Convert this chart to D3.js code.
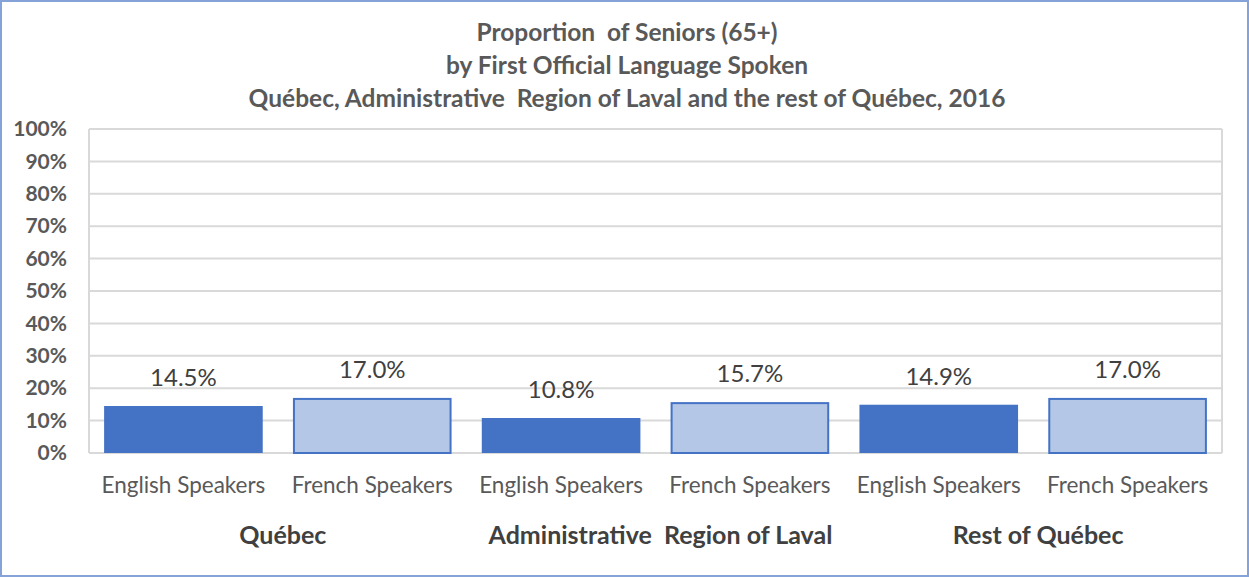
<!DOCTYPE html>
<html><head><meta charset="utf-8">
<script src="https://cdn.jsdelivr.net/npm/d3@7"></script>
<style>body{margin:0;background:#fff}svg{display:block}</style>
</head><body>
<svg id="c" width="1249" height="577"></svg>
<script>
const titleLines = ["Proportion  of Seniors (65+)", "by First Official Language Spoken", "Québec, Administrative  Region of Laval and the rest of Québec, 2016"];
const groups = ["Québec", "Administrative  Region of Laval", "Rest of Québec"];
const speakers = ["English Speakers", "French Speakers"];
const values = [14.5, 17.0, 10.8, 15.7, 14.9, 17.0];
const yTicks = [0, 10, 20, 30, 40, 50, 60, 70, 80, 90, 100];

const svg = d3.select("#c");
const W = 1249, H = 577;
const m = {left: 89, right: 1222, top: 129, bottom: 453};
const FONT = "Lato, 'Open Sans', sans-serif";

svg.append("rect").attr("x", 1).attr("y", 1).attr("width", W - 2).attr("height", H - 2)
  .attr("fill", "#fff").attr("stroke", "#85A2D9").attr("stroke-width", 2);

const cats = [];
groups.forEach((g, gi) => speakers.forEach((s, si) => cats.push({g, s, gi, si, key: gi + "-" + si, v: values[gi * 2 + si]})));

const x = d3.scaleBand().domain(cats.map(d => d.key)).range([m.left, m.right]).paddingInner(0.16).paddingOuter(0.08);
const y = d3.scaleLinear().domain([0, 100]).range([m.bottom, m.top]);

svg.append("g").selectAll("line").data(yTicks).join("line")
  .attr("x1", m.left).attr("x2", m.right).attr("y1", d => y(d)).attr("y2", d => y(d))
  .attr("stroke", "#D9D9D9").attr("stroke-width", 2);
svg.append("line").attr("x1", m.left).attr("x2", m.left).attr("y1", m.top).attr("y2", m.bottom).attr("stroke", "#D9D9D9").attr("stroke-width", 2);
svg.append("line").attr("x1", m.right).attr("x2", m.right).attr("y1", m.top).attr("y2", m.bottom).attr("stroke", "#D9D9D9").attr("stroke-width", 2);

const yAxis = d3.axisLeft(y).tickValues(yTicks).tickFormat(d => d + "%").tickSize(0).tickPadding(22);
const ya = svg.append("g").attr("transform", `translate(${m.left},0)`).call(yAxis);
ya.select(".domain").remove();
ya.selectAll("text").attr("font-family", FONT).attr("font-size", 21).attr("font-weight", "bold").attr("fill", "#595959");

svg.append("g").selectAll("rect").data(cats).join("rect")
  .attr("x", d => x(d.key) + (d.si ? 1 : 0)).attr("width", d => x.bandwidth() - (d.si ? 2 : 0))
  .attr("y", d => y(d.v) + (d.si ? 1 : 0)).attr("height", d => y(0) - y(d.v) - (d.si ? 1 : 0))
  .attr("fill", d => d.si ? "#B4C7E7" : "#4472C4")
  .attr("stroke", d => d.si ? "#4472C4" : "none").attr("stroke-width", 2);

svg.append("g").selectAll("text").data(cats).join("text")
  .attr("x", d => x(d.key) + x.bandwidth() / 2).attr("y", d => y(d.v) - 20)
  .attr("text-anchor", "middle").attr("font-family", FONT).attr("font-size", 24).attr("fill", "#404040")
  .text(d => d.v.toFixed(1) + "%");

const xAxis = d3.axisBottom(x).tickSize(0).tickPadding(24).tickFormat(k => cats.find(c => c.key === k).s);
const xa = svg.append("g").attr("transform", `translate(0,${m.bottom})`).call(xAxis);
xa.select(".domain").remove();
xa.selectAll("text").attr("font-family", FONT).attr("font-size", 22.5).attr("fill", "#595959");

svg.append("g").selectAll("text").data(groups).join("text")
  .attr("x", (g, i) => (x(i + "-0") + x(i + "-1") + x.bandwidth()) / 2 + 5)
  .attr("y", 544).attr("text-anchor", "middle").style("white-space", "pre")
  .attr("font-family", FONT).attr("font-size", 25).attr("font-weight", "bold").attr("fill", "#404040")
  .text(d => d);

svg.append("g").selectAll("text").data(titleLines).join("text")
  .attr("x", 627).attr("y", (d, i) => 41 + i * 33).attr("text-anchor", "middle").style("white-space", "pre")
  .attr("font-family", FONT).attr("font-size", 24.5).attr("font-weight", "bold").attr("fill", "#595959")
  .text(d => d);
</script>
</body></html>
